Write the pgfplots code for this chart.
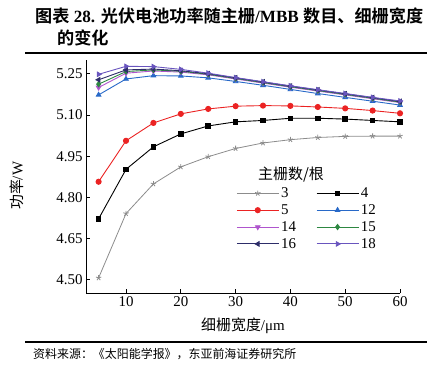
\documentclass[border=0pt]{standalone}
\usepackage{fontspec}
\setmainfont{Liberation Serif}
\newfontfamily\cjk{Noto Sans CJK SC}[BoldFont={Noto Sans CJK SC Bold}]
\usepackage{pgfplots}
\pgfplotsset{compat=1.18}
\definecolor{cgray}{RGB}{140,140,140}
\definecolor{cred}{RGB}{235,35,35}
\definecolor{cblue}{RGB}{40,105,200}
\definecolor{cviolet}{RGB}{175,85,205}
\definecolor{cgreen}{RGB}{45,135,65}
\definecolor{cnavy}{RGB}{45,45,105}
\definecolor{cpurple}{RGB}{105,85,190}
\begin{document}
\begin{tikzpicture}
\useasboundingbox (0bp,0bp) rectangle (440bp,-373bp);
% title
\node[anchor=base west,inner sep=0] at (35bp,-22bp) {\fontsize{17.2}{20}\selectfont\bfseries{\cjk 图表} 28. {\cjk 光伏电池功率随主栅}/MBB {\cjk 数目、细栅宽度}};
\node[anchor=base west,inner sep=0] at (57bp,-44bp) {\fontsize{17.2}{20}\selectfont\bfseries\cjk 的变化};
\draw[line width=1.6bp] (25bp,-53bp) -- (427bp,-53bp);
\draw[line width=1.6bp] (25bp,-342bp) -- (427bp,-342bp);
\node[anchor=base west,inner sep=0] at (33bp,-358bp) {\fontsize{12}{14}\selectfont\cjk 资料来源：《太阳能学报》，东亚前海证券研究所};
\begin{axis}[
  at={(86bp,-293bp)}, anchor=south west,
  scale only axis, width=314bp, height=233bp,
  xmin=2.7, xmax=60, ymin=4.452, ymax=5.30,
  axis lines=left,
  axis line style={-, line width=0.8bp},
  tick style={black, line width=0.8bp},
  tick align=inside,
  major tick length=4bp,
  xtick={10,20,...,60},
  ytick={4.50,4.65,4.80,4.95,5.10,5.25},
  yticklabel style={/pgf/number format/.cd,fixed,fixed zerofill,precision=2},
  /pgf/number format/assume math mode=true,
  tick label style={font=\fontsize{15}{17}\selectfont},
  xlabel={{\cjk 细栅宽度}/μm},
  ylabel={{\cjk 功率}/W},
  label style={font=\fontsize{15}{17}\selectfont},
  xlabel style={at={(axis description cs:0.5,0)}, anchor=center, yshift=-33bp},
  ylabel style={at={(axis description cs:0,0.46)}, anchor=center, yshift=69bp},
  every axis plot/.append style={line width=0.9bp, mark size=2.6bp},
  legend columns=2,
  legend style={at={(0.475,0.466)}, anchor=north west, draw=none, fill=none,
    font=\fontsize{15}{17}\selectfont, row sep=1.5bp, inner sep=1bp,
    /tikz/every even column/.append style={column sep=18bp}},
  legend cell align=left,
  legend image code/.code={\draw[mark repeat=2,mark phase=2] plot coordinates {(0cm,0cm) (0.74cm,0cm) (1.48cm,0cm)};},
]
\addplot[cgray, mark=star, mark size=2.8bp, line width=0.8bp] coordinates {(5,4.507)(10,4.741)(15,4.849)(20,4.911)(25,4.948)(30,4.978)(35,4.998)(40,5.010)(45,5.018)(50,5.022)(55,5.023)(60,5.023)};
\addlegendentry{3}
\addplot[black, mark=square*, mark size=2.3bp] coordinates {(5,4.722)(10,4.902)(15,4.984)(20,5.031)(25,5.060)(30,5.075)(35,5.080)(40,5.088)(45,5.088)(50,5.085)(55,5.080)(60,5.075)};
\addlegendentry{4}
\addplot[cred, mark=*] coordinates {(5,4.857)(10,5.006)(15,5.071)(20,5.104)(25,5.122)(30,5.132)(35,5.134)(40,5.133)(45,5.129)(50,5.124)(55,5.116)(60,5.106)};
\addlegendentry{5}
\addplot[cblue, mark=triangle*] coordinates {(5,5.173)(10,5.231)(15,5.243)(20,5.242)(25,5.235)(30,5.222)(35,5.208)(40,5.193)(45,5.178)(50,5.164)(55,5.150)(60,5.136)};
\addlegendentry{12}
\addplot[cviolet, mark=triangle*, mark options={rotate=180}] coordinates {(5,5.200)(10,5.252)(15,5.260)(20,5.256)(25,5.246)(30,5.231)(35,5.216)(40,5.201)(45,5.187)(50,5.173)(55,5.159)(60,5.145)};
\addlegendentry{14}
\addplot[cgreen, mark=diamond*] coordinates {(5,5.212)(10,5.258)(15,5.264)(20,5.259)(25,5.248)(30,5.233)(35,5.218)(40,5.203)(45,5.189)(50,5.175)(55,5.161)(60,5.147)};
\addlegendentry{15}
\addplot[cnavy, mark=triangle*, mark options={rotate=90}] coordinates {(5,5.228)(10,5.264)(15,5.267)(20,5.261)(25,5.250)(30,5.235)(35,5.220)(40,5.205)(45,5.191)(50,5.177)(55,5.163)(60,5.149)};
\addlegendentry{16}
\addplot[cpurple, mark=triangle*, mark options={rotate=-90}] coordinates {(5,5.248)(10,5.277)(15,5.276)(20,5.266)(25,5.252)(30,5.236)(35,5.221)(40,5.206)(45,5.192)(50,5.178)(55,5.164)(60,5.151)};
\addlegendentry{18}
\end{axis}
\node[anchor=center,inner sep=0] at (291bp,-175bp) {\fontsize{15}{17}\selectfont\cjk 主栅数/根};
\end{tikzpicture}
\end{document}
